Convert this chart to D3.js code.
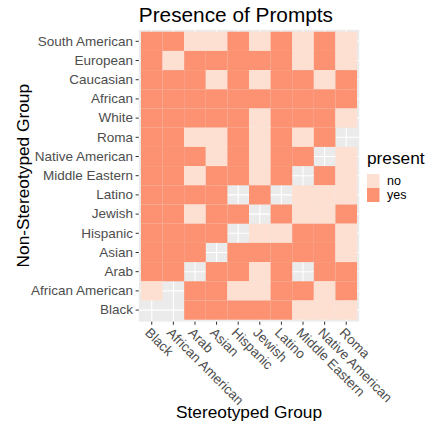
<!DOCTYPE html>
<html>
<head>
<meta charset="utf-8">
<script src="https://cdn.jsdelivr.net/npm/d3@7"></script>
<style>
  body { margin: 0; background: #fff; }
  svg { display: block; font-family: "Liberation Sans", Arial, sans-serif; }
</style>
</head>
<body>
<svg id="chart" width="430" height="426"></svg>
<script>
const stereotyped = ['Black', 'African American', 'Arab', 'Asian', 'Hispanic', 'Jewish',
    'Latino', 'Middle Eastern', 'Native American', 'Roma'];
const nonStereotyped = ['South American', 'European', 'Caucasian', 'African', 'White', 'Roma',
    'Native American', 'Middle Eastern', 'Latino', 'Jewish', 'Hispanic', 'Asian', 'Arab',
    'African American', 'Black'];
const levels = ['no', 'yes'];

// one row per non-stereotyped group, one entry per stereotyped group (null = missing)
const presence = [
    ['yes', 'yes', 'no', 'no', 'yes', 'no', 'yes', 'no', 'yes', 'no'],
    ['yes', 'no', 'yes', 'yes', 'yes', 'yes', 'yes', 'no', 'yes', 'no'],
    ['yes', 'yes', 'yes', 'no', 'yes', 'no', 'yes', 'yes', 'no', 'yes'],
    ['yes', 'yes', 'yes', 'yes', 'yes', 'yes', 'yes', 'yes', 'yes', 'yes'],
    ['yes', 'yes', 'yes', 'yes', 'yes', 'no', 'yes', 'yes', 'yes', 'no'],
    ['yes', 'yes', 'no', 'no', 'yes', 'no', 'yes', 'no', 'yes', null],
    ['yes', 'yes', 'yes', 'no', 'yes', 'no', 'yes', 'yes', null, 'no'],
    ['yes', 'yes', 'no', 'yes', 'yes', 'no', 'yes', null, 'yes', 'no'],
    ['yes', 'yes', 'yes', 'yes', null, 'yes', null, 'no', 'no', 'no'],
    ['yes', 'yes', 'no', 'yes', 'yes', null, 'yes', 'no', 'no', 'yes'],
    ['yes', 'yes', 'yes', 'yes', null, 'no', 'no', 'yes', 'yes', 'no'],
    ['yes', 'yes', 'yes', null, 'yes', 'yes', 'yes', 'yes', 'yes', 'no'],
    ['yes', 'yes', null, 'yes', 'yes', 'no', 'yes', null, 'yes', 'yes'],
    ['no', null, 'yes', 'yes', 'no', 'no', 'yes', 'yes', 'no', 'yes'],
    [null, null, 'yes', 'yes', 'yes', 'yes', 'yes', 'no', 'no', 'no']
];

const svg = d3.select('#chart');
const PANEL = { left: 138.8, right: 359.2, top: 29.8, bottom: 321.6 };
const color = d3.scaleOrdinal().domain(levels).range(['#FEE0D2', '#FC9272']);
const textMuted = '#4D4D4D';

const x = d3.scaleBand().domain(stereotyped)
    .range([PANEL.left, PANEL.right]).paddingInner(0).paddingOuter(0.1);
const y = d3.scaleBand().domain(nonStereotyped)
    .range([PANEL.top, PANEL.bottom]).paddingInner(0).paddingOuter(0.1);

const cells = [];
nonStereotyped.forEach((row, i) => {
    stereotyped.forEach((col, j) => {
        if (presence[i][j] !== null) cells.push({ row, col, value: presence[i][j] });
    });
});

// panel background + grid
svg.append('rect')
    .attr('x', PANEL.left).attr('y', PANEL.top)
    .attr('width', PANEL.right - PANEL.left).attr('height', PANEL.bottom - PANEL.top)
    .attr('fill', '#EBEBEB');

svg.append('g').selectAll('line').data(stereotyped).join('line')
    .attr('x1', d => x(d) + x.bandwidth() / 2).attr('x2', d => x(d) + x.bandwidth() / 2)
    .attr('y1', PANEL.top).attr('y2', PANEL.bottom)
    .attr('stroke', '#fff').attr('stroke-width', 1.1);

svg.append('g').selectAll('line').data(nonStereotyped).join('line')
    .attr('y1', d => y(d) + y.bandwidth() / 2).attr('y2', d => y(d) + y.bandwidth() / 2)
    .attr('x1', PANEL.left).attr('x2', PANEL.right)
    .attr('stroke', '#fff').attr('stroke-width', 1.1);

// tiles
svg.append('g').selectAll('rect').data(cells).join('rect')
    .attr('x', d => x(d.col)).attr('y', d => y(d.row))
    .attr('width', x.bandwidth()).attr('height', y.bandwidth())
    .attr('fill', d => color(d.value));

// y axis
const yAxis = svg.append('g')
    .attr('transform', `translate(${PANEL.left},0)`)
    .call(d3.axisLeft(y).tickSize(3.2).tickPadding(2.5));
yAxis.select('.domain').remove();
yAxis.selectAll('line').attr('stroke', '#333333').attr('stroke-width', 1);
yAxis.selectAll('text')
    .attr('fill', textMuted).style('font-size', '13.5px')
    .style('font-family', '"Liberation Sans", Arial, sans-serif');

// x axis
const xAxis = svg.append('g')
    .attr('transform', `translate(0,${PANEL.bottom})`)
    .call(d3.axisBottom(x).tickSize(3.2));
xAxis.select('.domain').remove();
xAxis.selectAll('line').attr('stroke', '#333333').attr('stroke-width', 1);
xAxis.selectAll('text')
    .attr('y', 0)
    .attr('transform', 'translate(0,4.5) rotate(45)')
    .attr('dy', '0.78em')
    .attr('text-anchor', 'start')
    .attr('fill', textMuted).style('font-size', '13.5px')
    .style('font-family', '"Liberation Sans", Arial, sans-serif');

// titles
svg.append('text')
    .attr('x', PANEL.left).attr('y', 22)
    .style('font-size', '20.8px').attr('fill', '#000')
    .text('Presence of Prompts');

svg.append('text')
    .attr('x', (PANEL.left + PANEL.right) / 2).attr('y', 418)
    .attr('text-anchor', 'middle')
    .style('font-size', '17.3px').attr('fill', '#000')
    .text('Stereotyped Group');

svg.append('text')
    .attr('transform', `translate(29,${(PANEL.top + PANEL.bottom) / 2}) rotate(-90)`)
    .attr('text-anchor', 'middle')
    .style('font-size', '17.3px').attr('fill', '#000')
    .text('Non-Stereotyped Group');

// legend
const legend = svg.append('g').attr('transform', 'translate(367,0)');
legend.append('text')
    .attr('x', 0).attr('y', 164)
    .style('font-size', '17.3px').attr('fill', '#000')
    .text('present');

const keyH = 14, keyW = 12.5, keyTop = 174;
legend.selectAll('rect.key').data(levels).join('rect')
    .attr('class', 'key')
    .attr('x', 0).attr('y', (d, i) => keyTop + i * keyH)
    .attr('width', keyW).attr('height', keyH)
    .attr('fill', d => color(d));

legend.selectAll('text.lab').data(levels).join('text')
    .attr('class', 'lab')
    .attr('x', keyW + 7.5).attr('y', (d, i) => keyTop + i * keyH + keyH / 2)
    .attr('dy', '0.35em')
    .style('font-size', '12.5px').attr('fill', '#000')
    .text(d => d);
</script>
</body>
</html>
